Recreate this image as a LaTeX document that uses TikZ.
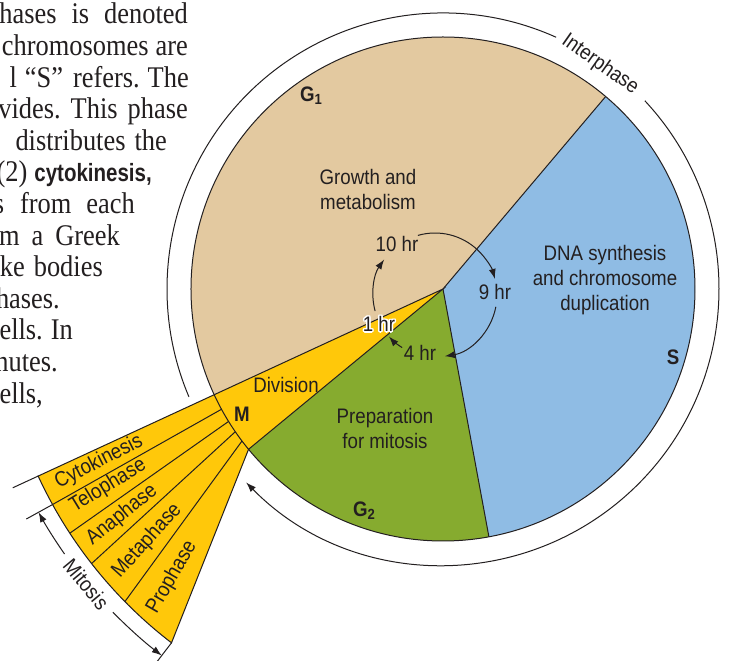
\documentclass[tikz,border=0pt]{standalone}
\usepackage{fontspec}
\setmainfont{Liberation Sans}[FakeStretch=0.89]
\newfontfamily\bodyserif{Liberation Serif}[FakeStretch=0.88]
\newfontfamily\bodysans{Liberation Sans}[FakeStretch=0.82]
\usetikzlibrary{arrows.meta}
\definecolor{gone}{HTML}{E3C9A0}
\definecolor{sblue}{HTML}{8FBCE4}
\definecolor{gtwo}{HTML}{86AB2F}
\definecolor{myellow}{HTML}{FFC80A}
\definecolor{ink}{HTML}{231F20}
\newcommand\wgap[1]{\hspace{#1pt}}
\begin{document}
\begin{tikzpicture}[x=1pt,y=1pt,
  edge/.style={draw=ink, line width=1pt},
  lbl/.style={text=ink, font=\fontsize{21}{25}\selectfont, align=center, inner sep=0pt},
  boldlbl/.style={text=ink, font=\fontsize{21}{25}\selectfont\bfseries, inner sep=0pt},
  tip/.style={-{Latex[length=10pt,width=7pt]}},
  body/.style={text=ink, font=\bodyserif\fontsize{30}{31.6}\selectfont, anchor=base east, inner sep=0pt}
]
\useasboundingbox (-443,-372) rectangle (286,289);
\clip (-443,-372) rectangle (286,289);
\fill[white] (-443,-372) rectangle (286,289);

% body text (cut-off paragraph)
\node[body] (t1) at (188-443,289-24) {phases\wgap{15}is\wgap{15}denoted};
\node[body] (t2) at (188-443,289-55.6) {chromosomes\wgap{7}are};
\node[body] (t3) at (189-443,289-87.2) {l\wgap{8}“S”\wgap{10}refers.\wgap{8}The};
\node[body] (t4) at (188-443,289-118.8) {vides.\wgap{10}This\wgap{10}phase};
\node[body] (t5) at (167-443,289-150.4) {distributes\wgap{9}the};
\node[body] (t6) at (152-443,289-182) {(2)\wgap{7}{\bodysans\bfseries\fontsize{25}{26}\selectfont cytokinesis,}};
\node[body] (t7) at (135-443,289-213.6) {s\wgap{16}from\wgap{15}each};
\node[body] (t8) at (120-443,289-245.2) {m\wgap{12}a\wgap{12}Greek};
\node[body] (t9) at (103-443,289-276.8) {ke\wgap{9}bodies};
\node[body] (t10) at (60-443,289-308.4) {hases.};
\node[body] (t11) at (73-443,289-340) {ells.\wgap{8}In};
\node[body] (t12) at (58-443,289-371.6) {nutes.};
\node[body] (t13) at (43-443,289-403.2) {ells,};

% sectors
\fill[gone] (0,0) -- (49.8:252) arc[start angle=49.8,end angle=204.8,radius=252] -- cycle;
\fill[sblue] (0,0) -- (-79.5:252) arc[start angle=-79.5,end angle=49.8,radius=252] -- cycle;
\fill[gtwo] (0,0) -- (-140.5:252) arc[start angle=-140.5,end angle=-79.5,radius=252] -- cycle;
\fill[myellow] (0,0) -- (-155.2:446) arc[start angle=-155.2,end angle=-127.5,radius=446] -- (-140.5:252) -- cycle;

\draw[edge] (0,0) circle[radius=252];
\draw[edge] (0,0) -- (49.8:252);
\draw[edge] (0,0) -- (-79.5:252);
\draw[edge] (0,0) -- (-140.5:252) -- (-127.5:446) arc[start angle=-127.5,end angle=-155.2,radius=446] -- cycle;

% fan divisions
\draw[edge] (-151.5:252) -- (-151.1:446);
\draw[edge] (-148.3:252) -- (-146.8:446);
\draw[edge] (-145.5:252) -- (-142.0:446);
\draw[edge] (-142.9:252) -- (-135.5:446);

% ticks and mitosis arrow
\draw[edge] (-155.2:446) -- (-155.2:474);
\draw[edge] (-151.1:446) -- (-151.1:476);
\draw[edge] (-127.5:446) -- (-127.5:478);
\draw[edge,tip] (-145:462) arc[start angle=-145,end angle=-151.1,radius=462];
\draw[edge,tip] (-135.6:462) arc[start angle=-135.6,end angle=-127.5,radius=462];
\node[lbl, rotate=-50.4] (mit) at (-140.4:463) {Mitosis};

% outer ring
\draw[edge] (65.8:276) arc[start angle=65.8,end angle=203,radius=276];
\draw[edge,tip] (43:276) arc[start angle=43,end angle=-135.5,radius=276];
\node[lbl, rotate=-35] (inter) at (55:274) {Interphase};

% time arrows
\draw[edge,tip] ([shift={(-8,-6)}]195:62) arc[start angle=195,end angle=145,radius=62];
\draw[edge,tip] ([shift={(-8,-6)}]106:62) arc[start angle=106,end angle=15,radius=62];
\draw[edge,tip] ([shift={(-8,-6)}]-11:62) arc[start angle=-11,end angle=-81,radius=62];
\draw[edge,tip] ([shift={(-8,-6)}]-122:62) arc[start angle=-122,end angle=-138,radius=62];

% labels
\node[lbl] (ten) at (-46,45) {10 hr};
\node[lbl] (nine) at (52,-3) {9 hr};
\foreach \a in {0,30,...,330}
  \node[lbl,text=white] at ([shift={(\a:1.5)}]-64,-35) {1 hr};
\node[lbl] (one) at (-64,-35) {1 hr};
\node[lbl] (four) at (-23,-64) {4 hr};
\node[lbl] (grow) at (-75,100) {Growth and\\metabolism};
\node[lbl] (dna) at (162,9) {DNA synthesis\\and chromosome\\duplication};
\node[lbl] (prep) at (-58,-139) {Preparation\\for mitosis};
\node[lbl] (div) at (-157,-96) {Division};
\node[boldlbl] (m) at (-201,-125) {M};
\node[boldlbl] (s) at (230,-68) {S};
\node[boldlbl, anchor=base west] (g1) at (-143,187.3) {G\textsubscript{1}};
\node[boldlbl, anchor=base west] (g2) at (-90,-227.5) {G\textsubscript{2}};

% fan labels
\node[lbl, rotate=27] (cyto) at (-344,-173) {Cytokinesis};
\node[lbl, rotate=31.5] (telo) at (-335,-197) {Telophase};
\node[lbl, rotate=39] (ana) at (-321,-226) {Anaphase};
\node[lbl, rotate=48] (meta) at (-296,-252) {Metaphase};
\node[lbl, rotate=60] (pro) at (-271,-288) {Prophase};
\end{tikzpicture}
\end{document}
